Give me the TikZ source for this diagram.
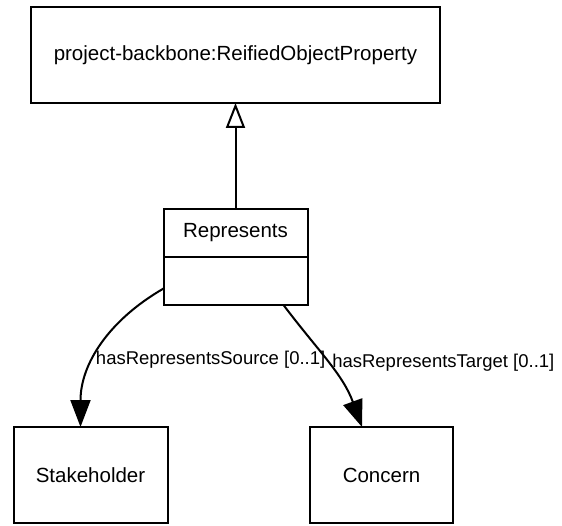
\documentclass[tikz,border=0pt]{standalone}
\usepackage{fontspec}
\setmainfont{Liberation Sans}
\usetikzlibrary{arrows.meta, positioning}

\begin{document}
\begin{tikzpicture}[x=1pt, y=1pt,
  cls/.style={draw, line width=2pt, outer sep=0pt, inner sep=0pt,
              minimum height=96pt, font=\fontsize{20.5}{24}\selectfont},
  part/.style={cls, minimum width=144pt, minimum height=48pt},
  isa/.style={line width=2pt, -{Triangle[open, length=25pt, width=19pt]}},
  assoc/.style={line width=2pt, -{Triangle[length=27pt, width=20pt]}},
  role/.style={right, inner sep=1pt, font=\fontsize{18.5}{22}\selectfont}
]
  \useasboundingbox (0,0) rectangle (562,525);

  % Superclass
  \node[cls, minimum width=409pt] (rop) at (235.5,470) {project-backbone:ReifiedObjectProperty};

  % Reified class (name and empty attribute part)
  \node[part, below=106pt of rop] (rep) {Represents};
  \node[part, below=0pt of rep] (repattr) {};

  % Related classes
  \node[cls, minimum width=154pt, below=122pt of repattr, xshift=-145pt] (stake) {Stakeholder};
  \node[cls, minimum width=143pt, below=122pt of repattr, xshift=146pt] (concern) {Concern};

  % Edges
  \draw[isa] (rep) -- (rop);
  \draw[assoc] (repattr.186) to[out=210, in=90]
    node[role, pos=0.6] (srclbl) {hasRepresentsSource [0..1]} ([xshift=-10pt]stake.north);
  \draw[assoc] ([xshift=48pt]repattr.south) to[out=-53, in=110]
    node[role, pos=0.5, inner sep=3pt] (tgtlbl) {hasRepresentsTarget [0..1]} ([xshift=-19.5pt]concern.north);
\end{tikzpicture}
\end{document}
